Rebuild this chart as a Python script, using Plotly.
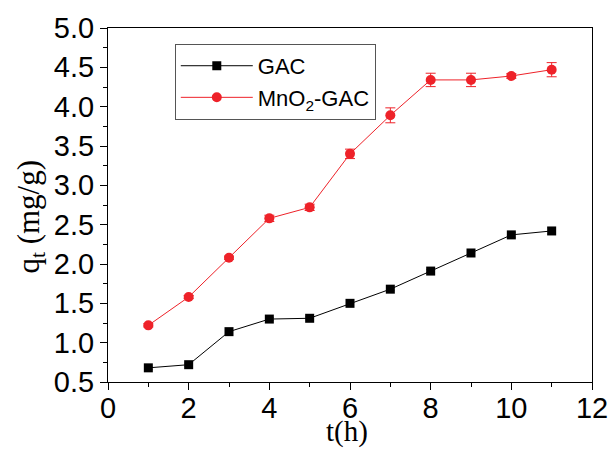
import plotly.graph_objects as go

t = [1, 2, 3, 4, 5, 6, 7, 8, 9, 10, 11]
gac = [0.68, 0.72, 1.14, 1.30, 1.31, 1.50, 1.68, 1.91, 2.14, 2.37, 2.42]
gac_err = [0.02, 0.02, 0.02, 0.02, 0.02, 0.02, 0.02, 0.02, 0.02, 0.03, 0.04]
mno2 = [1.22, 1.58, 2.08, 2.58, 2.72, 3.40, 3.89, 4.34, 4.34, 4.39, 4.47]
mno2_err = [0.02, 0.02, 0.02, 0.04, 0.04, 0.06, 0.095, 0.085, 0.085, 0.03, 0.09]

fig = go.Figure()
fig.add_trace(go.Scatter(
    x=t, y=gac, name="GAC", mode="lines+markers",
    line=dict(color="black", width=1),
    marker=dict(symbol="square", size=9, color="black"),
    error_y=dict(type="data", array=gac_err, color="black", thickness=1, width=4),
))
fig.add_trace(go.Scatter(
    x=t, y=mno2, name="MnO<sub>2</sub>-GAC", mode="lines+markers",
    line=dict(color="#ee2229", width=1),
    marker=dict(symbol="circle", size=10, color="#ee2229"),
    error_y=dict(type="data", array=mno2_err, color="#ee2229", thickness=1, width=5),
))

fig.update_layout(
    width=613, height=450,
    margin=dict(l=108, r=21, t=28, b=68),
    paper_bgcolor="white", plot_bgcolor="white",
    font=dict(family="Liberation Sans, Arial", color="black"),
    showlegend=True,
    legend=dict(
        x=0.138, y=0.955, xanchor="left", yanchor="top",
        bordercolor="#555555", borderwidth=1,
        font=dict(size=22, family="Liberation Sans, Arial"),
        bgcolor="white", tracegroupgap=0, itemwidth=72,
    ),
    xaxis=dict(
        range=[0, 12], dtick=2, tick0=0, automargin=False,
        showgrid=False, zeroline=False,
        showline=True, linecolor="black", linewidth=1, mirror=True,
        ticks="outside", ticklen=7, tickcolor="black", ticklabelstandoff=-7,
        tickfont=dict(size=29, family="Liberation Sans, Arial"),
        minor=dict(dtick=1, ticklen=4, ticks="outside", tickcolor="black", showgrid=False),
    ),
    yaxis=dict(
        range=[0.5, 5.0], dtick=0.5, tick0=0.5, tickformat=".1f", automargin=False,
        showgrid=False, zeroline=False,
        showline=True, linecolor="black", linewidth=1, mirror=True,
        ticks="outside", ticklen=7, tickcolor="black",
        tickfont=dict(size=29, family="Liberation Sans, Arial"),
        minor=dict(dtick=0.25, ticklen=4, ticks="outside", tickcolor="black", showgrid=False),
    ),
    annotations=[
        dict(text="t(h)", xref="paper", yref="paper", x=0.493, y=-0.192,
             xanchor="center", yanchor="bottom", showarrow=False,
             font=dict(size=29, family="Liberation Serif, Times New Roman", color="black")),
        dict(text="q<sub>t</sub> (mg/g)", xref="paper", yref="paper", x=-0.16, y=0.466,
             xanchor="center", yanchor="middle", showarrow=False, textangle=-90,
             font=dict(size=31, family="Liberation Serif, Times New Roman", color="black")),
    ],
)

fig.write_html("out.html")
